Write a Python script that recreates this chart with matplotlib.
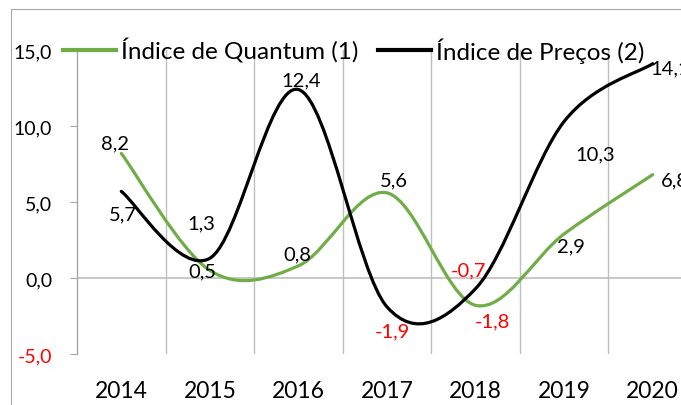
import matplotlib.pyplot as plt
from matplotlib.path import Path
from matplotlib.patches import PathPatch, Rectangle
from matplotlib.lines import Line2D

plt.rcParams['font.family'] = ['Lato', 'DejaVu Sans']

years = ['2014', '2015', '2016', '2017', '2018', '2019', '2020']
quantum = [8.2, 0.5, 0.8, 5.6, -1.8, 2.9, 6.8]
precos = [5.7, 1.3, 12.4, -1.9, -0.7, 10.3, 14.1]
yticks = [-5, 0, 5, 10, 15]

# label offsets in pixels (dx, dy), screen up positive
quantum_offsets = [(-6, 10), (-7, 0), (-1, 12), (7, 13), (17, -16), (7, -12), (22, -5)]
precos_offsets = [(2, -23), (-9, 35), (3, 10), (5, -24), (-7, 19), (31, -32), (17, -4)]

GREEN = '#70AD47'
GRID = '#BFBFBF'
AXIS = '#A6A6A6'


def smooth_path(ys):
    """Excel-like smoothed line as cubic bezier segments."""
    pts = list(enumerate(ys))
    n = len(pts)
    verts = [pts[0]]
    codes = [Path.MOVETO]
    for i in range(n - 1):
        p0 = pts[max(i - 1, 0)]
        p1 = pts[i]
        p2 = pts[i + 1]
        p3 = pts[min(i + 2, n - 1)]
        c1 = (p1[0] + (p2[0] - p0[0]) / 6, p1[1] + (p2[1] - p0[1]) / 6)
        c2 = (p2[0] - (p3[0] - p1[0]) / 6, p2[1] - (p3[1] - p1[1]) / 6)
        verts += [c1, c2, p2]
        codes += [Path.CURVE4] * 3
    return Path(verts, codes)


fig = plt.figure(figsize=(6.81, 4.06), dpi=100)
ax = fig.add_axes([77 / 681, 51 / 406, 620 / 681, 304 / 406])
ax.set_xlim(-0.5, 6.5)
ax.set_ylim(-5, 15)

# chart area border
fig.patches.append(Rectangle((11 / 681, -0.1), 1.2, 1.1 - 10 / 406, transform=fig.transFigure,
                             fill=False, edgecolor=AXIS, lw=0.8))

for s in ['top', 'right', 'bottom']:
    ax.spines[s].set_visible(False)
ax.spines['left'].set_color(AXIS)
ax.spines['left'].set_linewidth(1.0)

# vertical gridlines on category boundaries, zero line
for b in range(1, len(years) + 1):
    ax.axvline(b - 0.5, color=GRID, lw=1.0, zorder=0)
ax.axhline(0, color=GRID, lw=1.2, zorder=0)

ax.set_yticks(yticks)
ax.set_yticklabels([f'{v:.1f}'.replace('.', ',') for v in yticks], fontsize=14)
ax.tick_params(axis='y', direction='out', length=5, color=AXIS, pad=13)
for lbl, v in zip(ax.get_yticklabels(), yticks):
    if v < 0:
        lbl.set_color('red')

ax.set_xticks(range(len(years)))
ax.set_xticklabels(years, fontsize=16.5)
ax.tick_params(axis='x', length=0, pad=19)

ax.add_patch(PathPatch(smooth_path(quantum), fill=False, edgecolor=GREEN, lw=2.3, capstyle='round'))
ax.add_patch(PathPatch(smooth_path(precos), fill=False, edgecolor='black', lw=2.3, capstyle='round'))

for vals, offs in [(quantum, quantum_offsets), (precos, precos_offsets)]:
    for i, (v, off) in enumerate(zip(vals, offs)):
        ax.annotate(f'{v:.1f}'.replace('.', ','), (i, v), xytext=off, textcoords='offset pixels',
                    ha='center', va='center', fontsize=14.5,
                    color='red' if v < 0 else 'black', annotation_clip=False)

handles = [Line2D([], [], color=GREEN, lw=3), Line2D([], [], color='black', lw=3)]
ax.legend(handles, ['Índice de Quantum (1)', 'Índice de Preços (2)'], ncol=2, frameon=False,
          loc='center left', bbox_to_anchor=(63 / 681, 1 - 51 / 406), bbox_transform=fig.transFigure,
          fontsize=17.5, handlelength=2.2, handletextpad=0.2, columnspacing=0.78,
          borderpad=0, borderaxespad=0)

fig.savefig('out.png', dpi=100)
